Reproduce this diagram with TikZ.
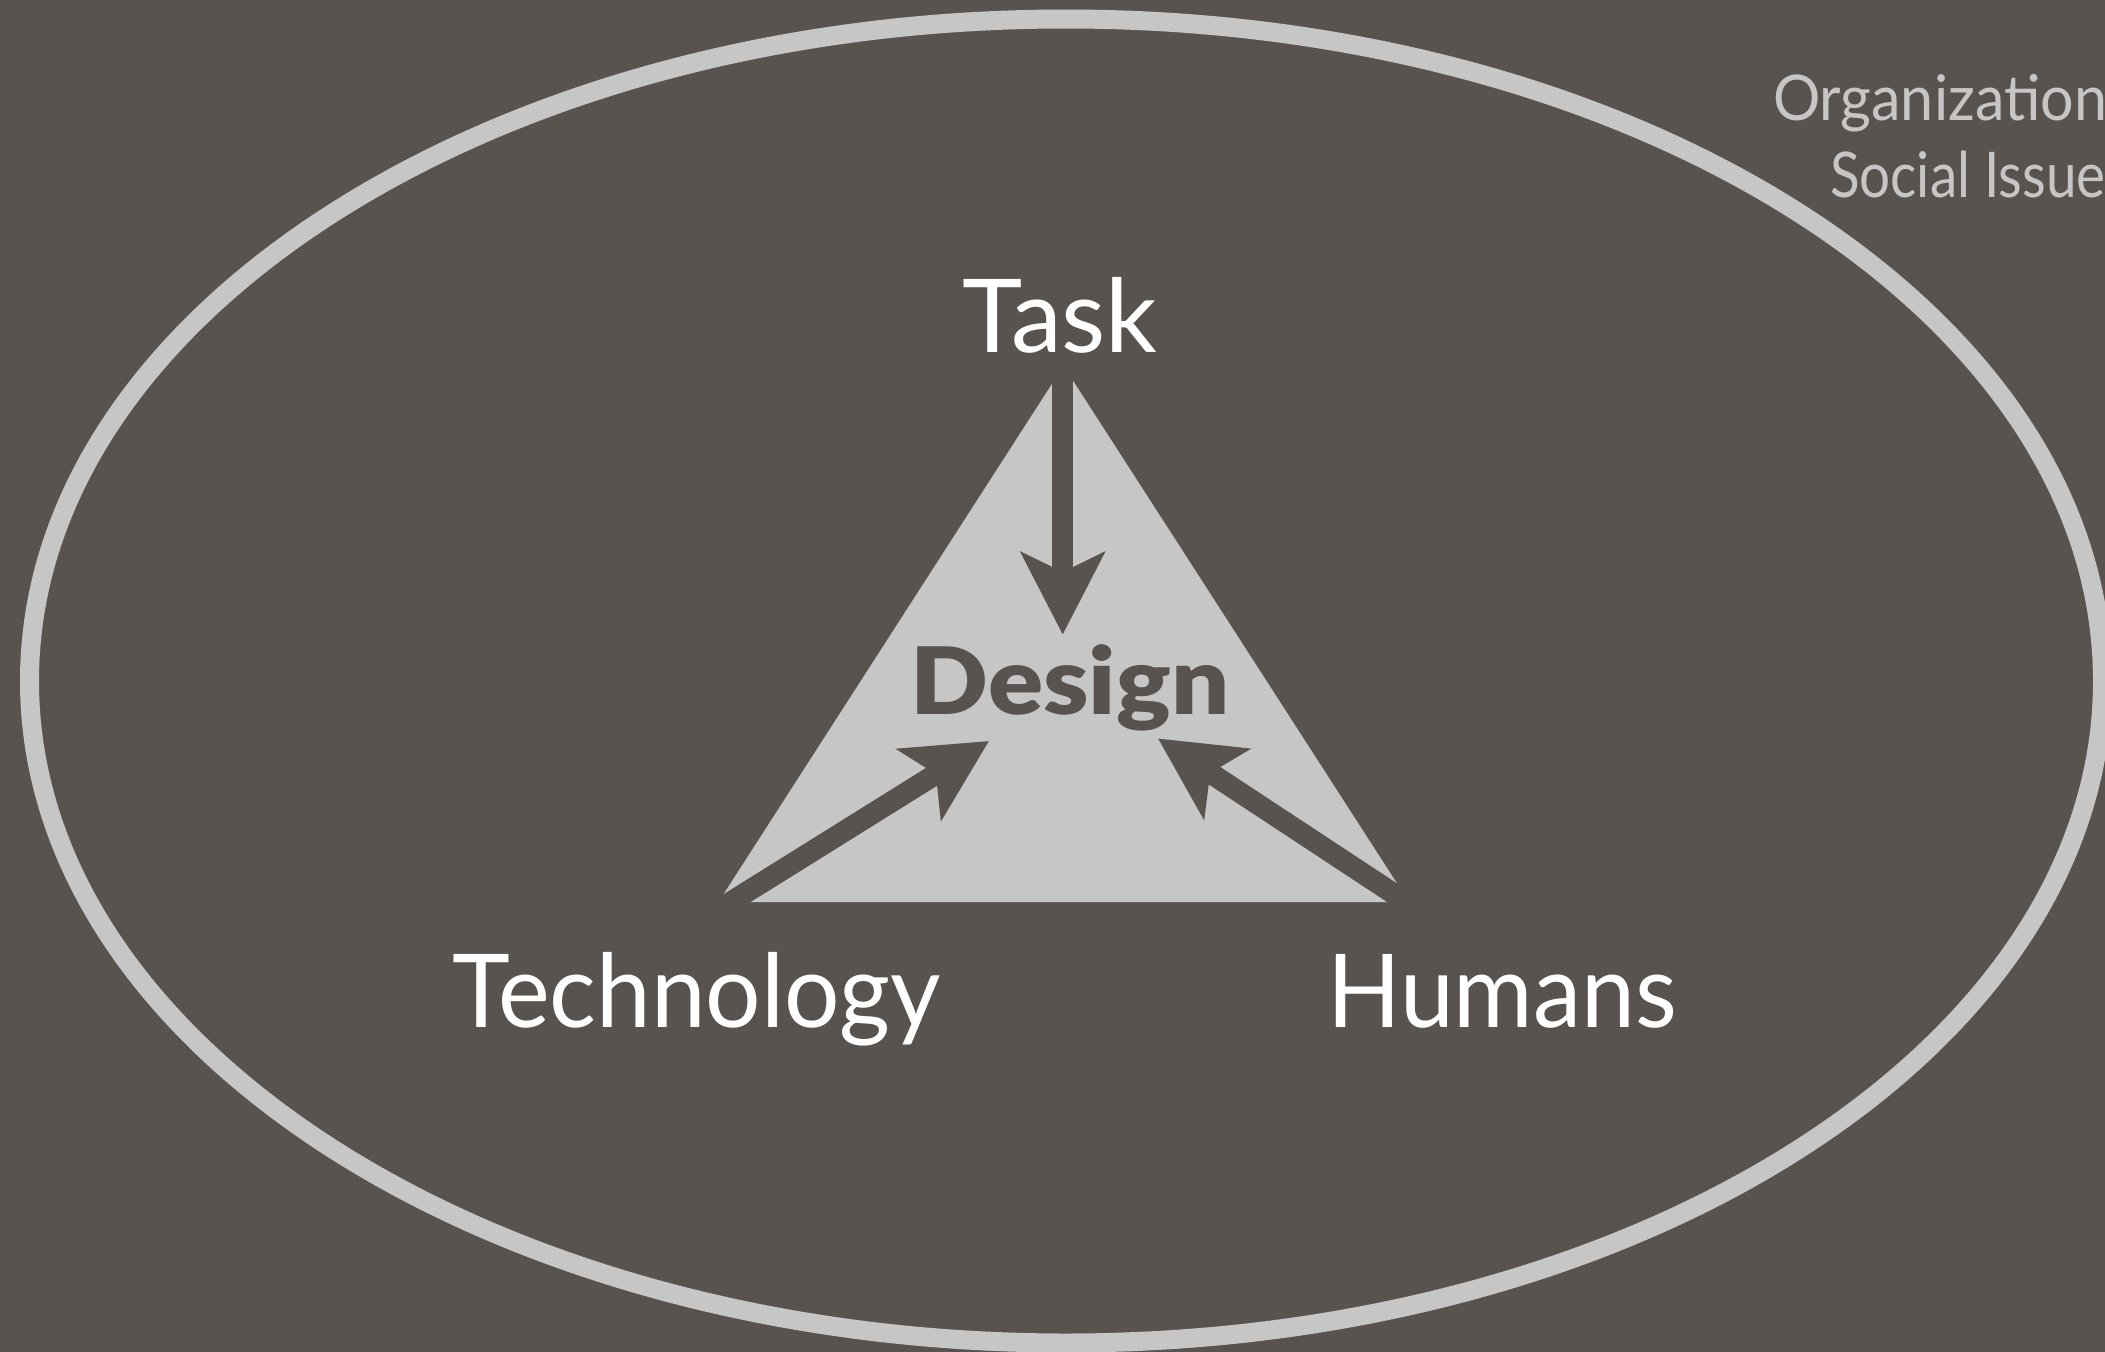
\documentclass[tikz,border=0pt]{standalone}
\usepackage{fontspec}
\setmainfont{Lato}
\newfontfamily\heavyfont{Lato Black}
\usetikzlibrary{arrows.meta}
\definecolor{bg}{RGB}{89,83,80}
\definecolor{lite}{RGB}{198,198,198}
\begin{document}
\begin{tikzpicture}[x=1pt,y=-1pt,
  lbl/.style={inner sep=0pt, outer sep=0pt, anchor=base, text=white, font=\fontsize{102}{110}\selectfont},
  org/.style={inner sep=0pt, outer sep=0pt, anchor=base west, text=lite, font=\fontsize{63}{70}\selectfont},
  flow/.style={draw=bg, line width=21pt, -{Stealth[length=82pt,width=83pt,inset=19.5pt]}},
 ]
\useasboundingbox (0,0) rectangle (2105,1352);
\fill[bg] (0,0) rectangle (2105,1352);
\clip (0,0) rectangle (2105,1352);
\draw[lite, line width=19pt] (1066,681) ellipse [x radius=1036.5, y radius=662];
\coordinate (apex) at (1063.5,366);
\coordinate (bl) at (718.5,902);
\coordinate (br) at (1409,902);
\fill[lite] (apex) -- (bl) -- (br) -- cycle;
\coordinate (tS) at (1062.7,330);
\coordinate (tE) at (1062.7,634.6);
\coordinate (lS) at (709,915.6);
\coordinate (lE) at (989,741);
\coordinate (rS) at (1433.5,920);
\coordinate (rE) at (1158,738.5);
\draw[flow] (tS) -- (tE);
\draw[flow] (lS) -- (lE);
\draw[flow] (rS) -- (rE);
\node[lbl] (task) at (1060,352) {Task};
\node[lbl, text=bg, font=\fontsize{93}{100}\heavyfont] (design) at (1070,714) {\scalebox{1.1}[1]{Design}};
\node[lbl] (tech) at (696.5,1027) {\scalebox{0.96}[1]{Technology}};
\node[lbl] (hum) at (1502,1027) {\scalebox{0.947}[1]{Humans}};
\node[org] (org) at (1773,120) {\scalebox{0.94}[1]{Organization}};
\node[org] (soc) at (1830,197) {\scalebox{0.87}[1]{Social Issue}};
\end{tikzpicture}
\end{document}
